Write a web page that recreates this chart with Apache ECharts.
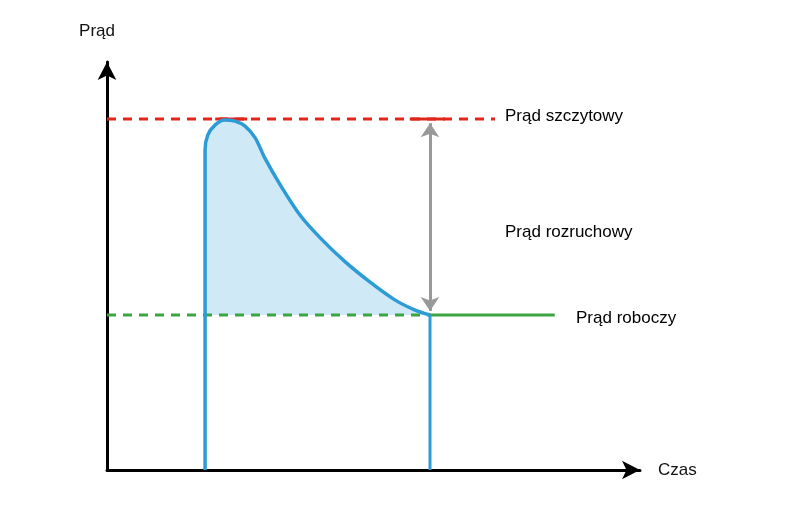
<!DOCTYPE html>
<html><head><meta charset="utf-8">
<script src="https://cdn.jsdelivr.net/npm/echarts@6/dist/echarts.min.js"></script>
<style>html,body{margin:0;background:#fff}#c{width:800px;height:514px}</style>
</head><body><div id="c"></div>
<script>
// schematic levels (data units, 0..100)
var peakLevel = 86, workLevel = 38;
var startX = 18.4, endX = 60.6;
var curveX = [18.4, 18.4, 18.9, 20.3, 22.1, 24.0, 25.9, 27.8, 29.6, 32.5, 36.2, 40.0, 44.7, 49.3, 54.0, 57.8, 60.6];
var curveY = [0, 78.4, 82.1, 84.6, 85.8, 85.5, 84.3, 81.4, 76.5, 69.9, 62.5, 56.9, 51.0, 46.1, 41.7, 39.2, 38];
var labels = ['Prąd szczytowy', 'Prąd rozruchowy', 'Prąd roboczy'];

var curve = curveX.map(function (x, i) { return [x, curveY[i]]; });
var fill = curve.slice(1);
var blue = '#2d9bd6', red = '#e0261b', green = '#3aa541';
var txt = { fontFamily: 'Helvetica, Arial, Liberation Sans', fontSize: 17, color: '#111' };
function line(data, color, type, w) {
  return { type: 'line', data: data, symbol: 'none', silent: true,
    lineStyle: { color: color, type: type || 'solid', width: w || 3 } };
}
var chart = echarts.init(document.getElementById('c'));
chart.setOption({
  animation: false,
  grid: { left: 107, right: 160, top: 62, bottom: 44 },
  xAxis: { type: 'value', min: 0, max: 100, splitLine: { show: false }, axisTick: { show: false }, axisLabel: { show: false },
    axisLine: { lineStyle: { color: '#000', width: 3 }, symbol: ['none', 'arrow'], symbolSize: [14, 18] },
    name: 'Czas', nameGap: 18, nameTextStyle: txt },
  yAxis: { type: 'value', min: 0, max: 100, splitLine: { show: false }, axisTick: { show: false }, axisLabel: { show: false },
    axisLine: { lineStyle: { color: '#000', width: 3 }, symbol: ['none', 'arrow'], symbolSize: [14, 18] },
    name: 'Prąd', nameGap: 22, nameTextStyle: Object.assign({ align: 'center', padding: [0, 20, 0, 0] }, txt) },
  series: [
    line([[0, peakLevel], [72.8, peakLevel]], red, [9, 7]),
    line([[20.3, peakLevel], [26.3, peakLevel]], red),
    line([[56.8, peakLevel], [63.4, peakLevel]], red),
    line([[0, workLevel], [endX, workLevel]], green, [9, 7]),
    line([[endX, workLevel], [84, workLevel]], green),
    { type: 'line', data: fill, symbol: 'none', silent: true, smooth: 0.3, lineStyle: { width: 0 },
      areaStyle: { origin: workLevel, color: 'rgba(45,155,214,0.32)' } },
    Object.assign(line(curve, blue, 'solid', 3.5), { smooth: 0.3 }),
    line([[endX, 0], [endX, workLevel]], blue, 'solid', 3),
    { type: 'line', data: [], markLine: { silent: true, symbol: ['arrow', 'arrow'], symbolSize: 14,
        lineStyle: { color: '#999', type: 'solid', width: 3 }, label: { show: false },
        data: [[{ coord: [endX, peakLevel - 1] }, { coord: [endX, workLevel + 1] }]] } }
  ],
  graphic: [
    { type: 'text', left: 505, top: 108, style: Object.assign({ text: labels[0] }, txt) },
    { type: 'text', left: 505, top: 224, style: Object.assign({ text: labels[1] }, txt) },
    { type: 'text', left: 576, top: 310, style: Object.assign({ text: labels[2] }, txt) }
  ]
});
</script></body></html>
